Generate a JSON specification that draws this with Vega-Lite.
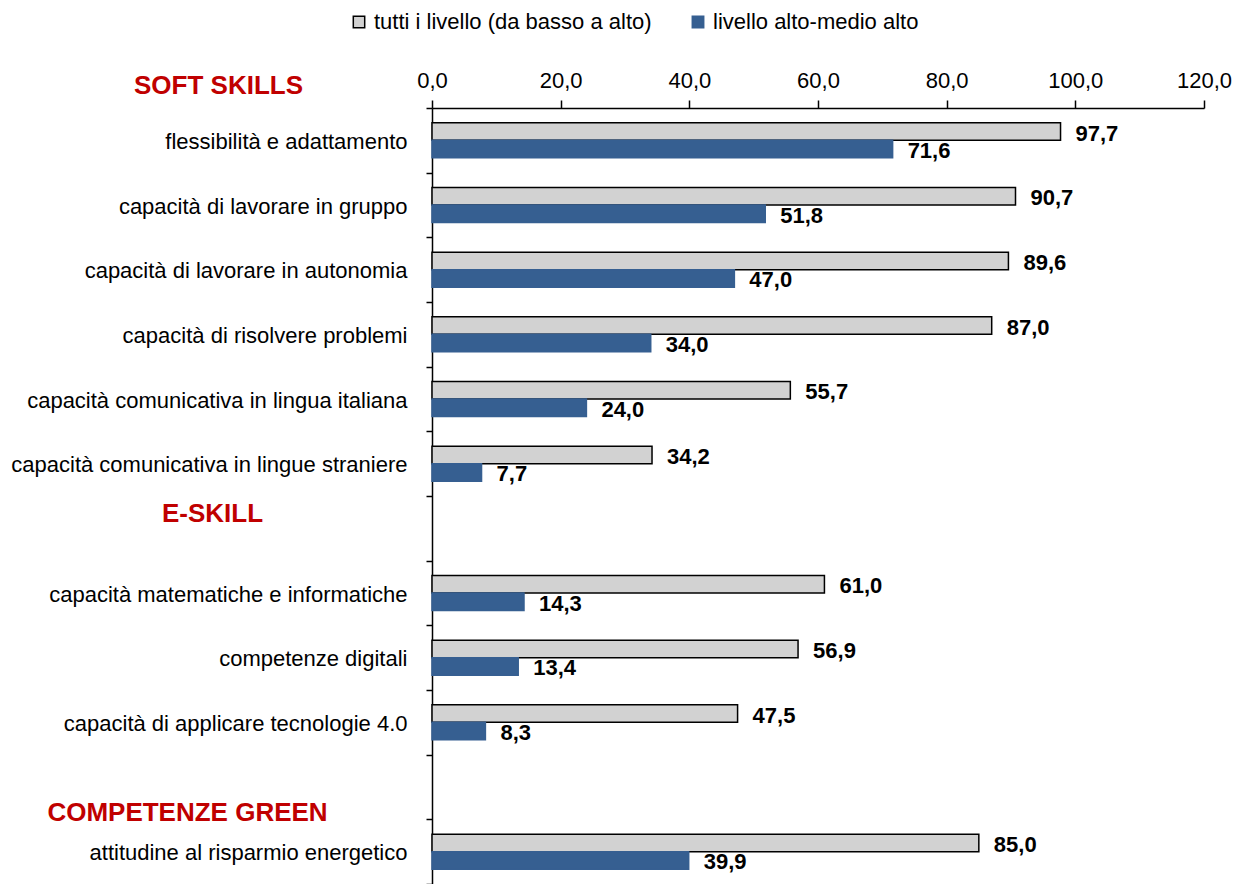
{
  "$schema": "https://vega.github.io/schema/vega-lite/v6.json",
  "width": 772,
  "height": 776,
  "autosize": "none",
  "padding": {"left": 432, "top": 108, "right": 30, "bottom": 0},
  "background": "white",
  "config": {
    "locale": {"number": {"decimal": ",", "thousands": ".", "grouping": [3], "currency": ["€", ""]}},
    "view": {"stroke": null},
    "font": "Liberation Sans",
    "axis": {"grid": false, "domainColor": "black", "tickColor": "black", "labelColor": "black", "domainWidth": 1.5, "tickWidth": 1.5, "labelFont": "Liberation Sans"}
  },
  "data": {
    "values": [
      {"categoria": "flessibilità e adattamento", "serie": "tutti i livello (da basso a alto)", "valore": 97.7},
      {"categoria": "flessibilità e adattamento", "serie": "livello alto-medio alto", "valore": 71.6},
      {"categoria": "capacità di lavorare in gruppo", "serie": "tutti i livello (da basso a alto)", "valore": 90.7},
      {"categoria": "capacità di lavorare in gruppo", "serie": "livello alto-medio alto", "valore": 51.8},
      {"categoria": "capacità di lavorare in autonomia", "serie": "tutti i livello (da basso a alto)", "valore": 89.6},
      {"categoria": "capacità di lavorare in autonomia", "serie": "livello alto-medio alto", "valore": 47.0},
      {"categoria": "capacità di risolvere problemi", "serie": "tutti i livello (da basso a alto)", "valore": 87.0},
      {"categoria": "capacità di risolvere problemi", "serie": "livello alto-medio alto", "valore": 34.0},
      {"categoria": "capacità comunicativa in lingua italiana", "serie": "tutti i livello (da basso a alto)", "valore": 55.7},
      {"categoria": "capacità comunicativa in lingua italiana", "serie": "livello alto-medio alto", "valore": 24.0},
      {"categoria": "capacità comunicativa in lingue straniere", "serie": "tutti i livello (da basso a alto)", "valore": 34.2},
      {"categoria": "capacità comunicativa in lingue straniere", "serie": "livello alto-medio alto", "valore": 7.7},
      {"categoria": "capacità matematiche e informatiche", "serie": "tutti i livello (da basso a alto)", "valore": 61.0},
      {"categoria": "capacità matematiche e informatiche", "serie": "livello alto-medio alto", "valore": 14.3},
      {"categoria": "competenze digitali", "serie": "tutti i livello (da basso a alto)", "valore": 56.9},
      {"categoria": "competenze digitali", "serie": "livello alto-medio alto", "valore": 13.4},
      {"categoria": "capacità di applicare tecnologie 4.0", "serie": "tutti i livello (da basso a alto)", "valore": 47.5},
      {"categoria": "capacità di applicare tecnologie 4.0", "serie": "livello alto-medio alto", "valore": 8.3},
      {"categoria": "attitudine al risparmio energetico", "serie": "tutti i livello (da basso a alto)", "valore": 85.0},
      {"categoria": "attitudine al risparmio energetico", "serie": "livello alto-medio alto", "valore": 39.9}
    ]
  },
  "encoding": {
    "y": {
      "field": "categoria",
      "type": "nominal",
      "scale": {
        "domain": [
          "flessibilità e adattamento",
          "capacità di lavorare in gruppo",
          "capacità di lavorare in autonomia",
          "capacità di risolvere problemi",
          "capacità comunicativa in lingua italiana",
          "capacità comunicativa in lingue straniere",
          "E-SKILL",
          "capacità matematiche e informatiche",
          "competenze digitali",
          "capacità di applicare tecnologie 4.0",
          "COMPETENZE GREEN",
          "attitudine al risparmio energetico"
        ],
        "paddingInner": 0,
        "paddingOuter": 0
      },
      "axis": {
        "title": "SOFT SKILLS",
        "titleAngle": 0,
        "titleAlign": "center",
        "titleBaseline": "middle",
        "titleX": -214,
        "titleY": -23,
        "titleColor": "#c00000",
        "titleFont": "Liberation Sans",
        "titleFontSize": 26,
        "titleFontWeight": "bold",
        "tickBand": "extent",
        "tickSize": 6,
        "labelLimit": 600,
        "labelBaseline": "middle",
        "labelFontSize": {"condition": {"test": "datum.value === 'E-SKILL' || datum.value === 'COMPETENZE GREEN'", "value": 26}, "value": 22},
        "labelFontWeight": {"condition": {"test": "datum.value === 'E-SKILL' || datum.value === 'COMPETENZE GREEN'", "value": "bold"}, "value": "normal"},
        "labelColor": {"condition": {"test": "datum.value === 'E-SKILL' || datum.value === 'COMPETENZE GREEN'", "value": "#c00000"}, "value": "black"},
        "labelAlign": {"condition": {"test": "datum.value === 'E-SKILL' || datum.value === 'COMPETENZE GREEN'", "value": "center"}, "value": "right"},
        "labelPadding": {"condition": [{"test": "datum.value === 'E-SKILL'", "value": 214}, {"test": "datum.value === 'COMPETENZE GREEN'", "value": 239}], "value": 19},
        "labelOffset": {"condition": [{"test": "datum.value === 'E-SKILL'", "value": -15}, {"test": "datum.value === 'COMPETENZE GREEN'", "value": 25}], "value": 1}
      }
    },
    "yOffset": {
      "field": "serie",
      "type": "nominal",
      "scale": {"domain": ["tutti i livello (da basso a alto)", "livello alto-medio alto"], "paddingInner": 0, "paddingOuter": 0.85}
    },
    "x": {
      "field": "valore",
      "type": "quantitative",
      "scale": {"domain": [0, 120], "nice": false},
      "axis": {
        "orient": "top",
        "title": null,
        "values": [0, 20, 40, 60, 80, 100, 120],
        "format": ".1f",
        "tickSize": 8,
        "labelPadding": 8,
        "labelFontSize": 22,
        "labelFlush": false
      }
    }
  },
  "layer": [
    {
      "mark": {"type": "bar", "strokeWidth": 1.5},
      "encoding": {
        "color": {
          "field": "serie",
          "type": "nominal",
          "scale": {"domain": ["tutti i livello (da basso a alto)", "livello alto-medio alto"], "range": ["#d2d2d2", "#365f91"]},
          "legend": {
            "title": null,
            "orient": "none",
            "legendX": -84,
            "legendY": -97,
            "direction": "horizontal",
            "symbolType": "square",
            "symbolSize": 130,
            "symbolStrokeWidth": 1.5,
            "labelFont": "Liberation Sans",
            "labelFontSize": 22,
            "labelColor": "black",
            "labelOffset": 4,
            "labelLimit": 600,
            "columnPadding": 35
          }
        },
        "stroke": {
          "field": "serie",
          "type": "nominal",
          "scale": {"domain": ["tutti i livello (da basso a alto)", "livello alto-medio alto"], "range": ["black", "#365f91"]},
          "legend": {
            "title": null,
            "orient": "none",
            "legendX": -84,
            "legendY": -97,
            "direction": "horizontal",
            "symbolType": "square",
            "symbolSize": 130,
            "symbolStrokeWidth": 1.5,
            "labelFont": "Liberation Sans",
            "labelFontSize": 22,
            "labelColor": "black",
            "labelOffset": 4,
            "labelLimit": 600,
            "columnPadding": 35
          }
        }
      }
    },
    {
      "mark": {"type": "text", "align": "left", "baseline": "middle", "dx": 15, "dy": 2, "fontWeight": "bold", "fontSize": 22, "font": "Liberation Sans", "color": "black"},
      "encoding": {
        "text": {"field": "valore", "type": "quantitative", "format": ".1f"}
      }
    }
  ]
}
